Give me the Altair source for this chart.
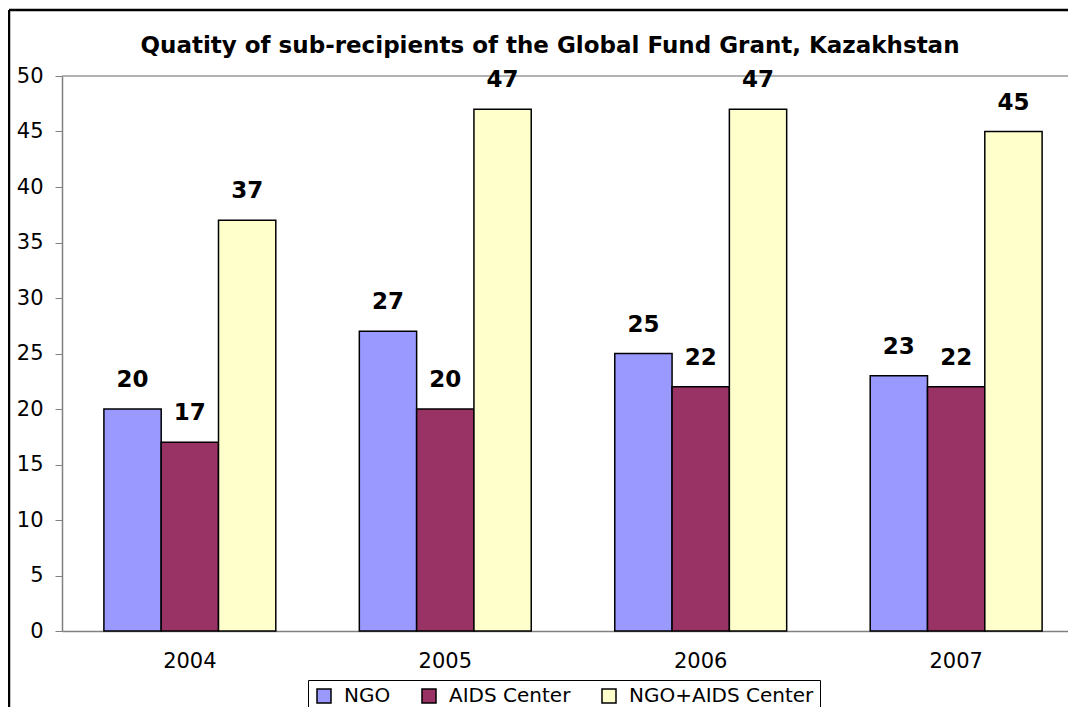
import altair as alt
import pandas as pd

years = ["2004", "2005", "2006", "2007"]
series = ["NGO", "AIDS Center", "NGO+AIDS Center"]
ngo = [20, 27, 25, 23]
aids = [17, 20, 22, 22]
both = [37, 47, 47, 45]
colors = ["#9999FF", "#993366", "#FFFFCC"]

rows = []
for i, y in enumerate(years):
    for s, vals in zip(series, [ngo, aids, both]):
        rows.append({"year": y, "series": s, "value": vals[i]})
df = pd.DataFrame(rows)

W = 1006
H = 555
FONT = "DejaVu Sans"

base = alt.Chart(df)

x = alt.X(
    "year:N",
    sort=years,
    scale=alt.Scale(range=[0, 1022], paddingInner=0.327, paddingOuter=0.164),
    axis=alt.Axis(
        title=None, labelAngle=0, ticks=False, labelFontSize=21, labelPadding=19,
        domainColor="#808080", domainWidth=1.5, labelColor="black", labelFont=FONT,
    ),
)
xo = alt.XOffset("series:N", sort=series, scale=alt.Scale(domain=series, paddingInner=0, paddingOuter=0))
y = alt.Y(
    "value:Q",
    scale=alt.Scale(domain=[0, 50], nice=False),
    axis=alt.Axis(
        title=None, values=list(range(0, 51, 5)), grid=False, tickSize=7,
        tickColor="#808080", domainColor="#808080", domainWidth=1.5, labelFontSize=21,
        labelPadding=12, labelColor="black", labelFont=FONT,
    ),
)
color = alt.Color(
    "series:N",
    sort=series,
    scale=alt.Scale(domain=series, range=colors),
    legend=alt.Legend(
        title=None, orient="none", legendX=246, legendY=604, direction="horizontal",
        strokeColor="black", padding=6, labelFontSize=20, labelFont=FONT, labelLimit=400,
        symbolType="square", symbolSize=196, symbolStrokeColor="black",
        symbolStrokeWidth=1.5, columnPadding=28, labelOffset=10, labelColor="black",
    ),
)

bars = base.mark_bar(stroke="black", strokeWidth=1.5).encode(x=x, xOffset=xo, y=y, color=color)
labels = base.mark_text(
    fontSize=23, fontWeight="bold", font=FONT, dy=-22, baseline="alphabetic", color="black"
).encode(x=x, xOffset=xo, y=y, text="value:Q")

one = pd.DataFrame({"a": [0]})
top_line = alt.Chart(one).mark_rule(color="#999999", strokeWidth=1.5).encode(
    y=alt.value(0), x=alt.value(0), x2=alt.value(1014)
)
border_left = alt.Chart(one).mark_rule(color="black", strokeWidth=2.5).encode(
    x=alt.value(-53), y=alt.value(-66), y2=alt.value(700)
)
border_top = alt.Chart(one).mark_rule(color="black", strokeWidth=2.5).encode(
    y=alt.value(-66), x=alt.value(-53), x2=alt.value(1030)
)

chart = alt.layer(border_left, border_top, top_line, bars, labels).properties(
    width=W,
    height=H,
    autosize=alt.AutoSizeParams(type="none"),
    padding={"left": 54, "top": 68, "right": 0, "bottom": 76},
    title=alt.Title(
        "Quatity of sub-recipients of the Global Fund Grant, Kazakhstan",
        fontSize=23, fontWeight="bold", font=FONT, anchor="middle", offset=0, dy=67, dx=-15,
        baseline="alphabetic", color="black",
    ),
).configure_view(stroke=None)

chart.save("out.html", embed_options={"renderer": "svg", "actions": False})
